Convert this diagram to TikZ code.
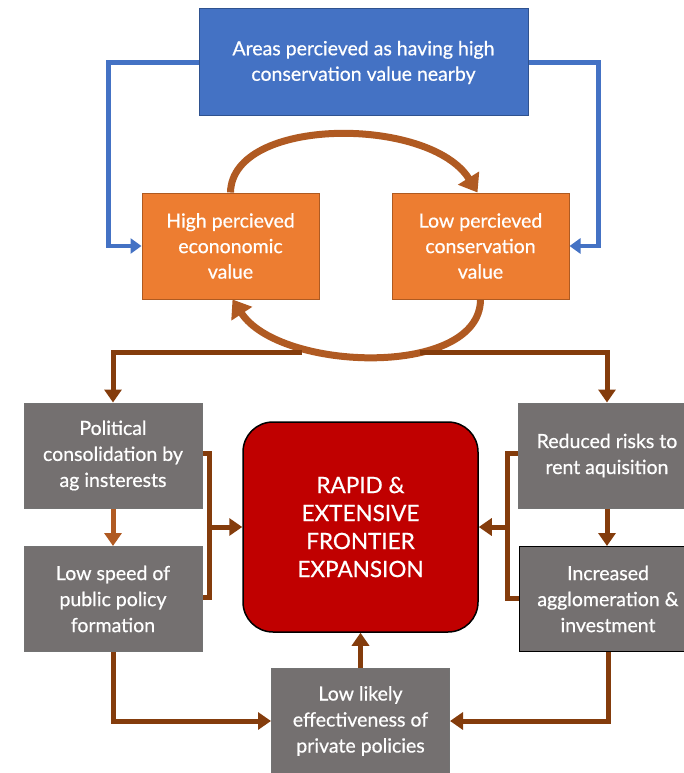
\documentclass[tikz,border=0pt]{standalone}
\usepackage{fontspec}
\setmainfont{Lato}[FakeBold=0.6]
\usetikzlibrary{arrows.meta}
\definecolor{areablue}{HTML}{4472C4}
\definecolor{areaedge}{HTML}{2F528F}
\definecolor{valorange}{HTML}{ED7D31}
\definecolor{valedge}{HTML}{AE5A21}
\definecolor{loopbrown}{RGB}{176,90,34}
\definecolor{linkbrown}{HTML}{843C0C}
\definecolor{factgray}{HTML}{747070}
\definecolor{rapidred}{HTML}{C00000}

\begin{document}
\begin{tikzpicture}[x=1pt,y=-1pt,
  box/.style={rectangle,text=white,align=center,inner sep=0pt,
    font=\fontsize{19.5}{25.5}\selectfont},
  areabox/.style={box,fill=areablue,draw=areaedge,line width=1pt,
    minimum width=329pt,minimum height=107pt},
  valbox/.style={box,fill=valorange,draw=valedge,line width=1pt,
    minimum width=177pt,minimum height=106pt},
  factbox/.style={box,fill=factgray,draw=black!55,line width=1pt,
    minimum width=178pt,minimum height=105pt,
    font=\fontsize{19.5}{26}\selectfont},
  bluelink/.style={draw=areablue,line width=4.5pt,
    -{Triangle[length=11pt,width=15pt]}},
  looplink/.style={draw=loopbrown,line width=7pt,
    -{Triangle[length=17pt,width=24pt]}},
  brownlink/.style={draw=linkbrown,line width=5pt,
    -{Triangle[length=13pt,width=17pt]}},
  plainbrown/.style={draw=linkbrown,line width=5pt}]
\useasboundingbox (0,0) rectangle (684,773);

% top of the loop
\node [areabox] at (363.5,62.5) (area) {Areas percieved as having high\\conservation value nearby};
\node [valbox] at (230.5,246) (econ) {High percieved\\econonomic\\value};
\node [valbox] at (480.5,246) (cons) {Low percieved\\conservation\\value};
%
\node [factbox] at (113,455.5) (polit) {Political\\consolidation by\\ag insterests};
\node [factbox] at (113,599) (speed) {Low speed of\\public policy\\formation};
\node [factbox] at (607,455.5) (rent) {Reduced risks to\\rent aquisition};
\node [factbox,draw=black] at (608,599) (aggl) {Increased\\agglomeration \&\\investment};
\node [factbox] at (360.5,721) (priv) {Low likely\\effectiveness of\\private policies};
%
\node [box,fill=rapidred,draw=black,line width=1.5pt,rounded corners=30pt,
  minimum width=235pt,minimum height=210pt,
  font=\fontsize{22.5}{28}\selectfont] at (360.5,527) (rapid) {RAPID \&\\EXTENSIVE\\FRONTIER\\EXPANSION};
%
\coordinate (arcL) at (302,352);
\coordinate (arcR) at (420,352);
%
\path[bluelink] (area.west) -- ++(-90,0) |- (econ.west);
\path[bluelink] (area.east) -- ++(70,0) |- (cons.east);
\path[looplink] (econ.north) .. controls (232,116) and (430,116) .. ([xshift=-3pt]cons.north);
\path[looplink] (cons.south) .. controls (480,378) and (280,372) .. ([xshift=2pt]econ.south);
%
\path[brownlink] (arcL) -| (polit.north);
\path[brownlink] (arcR) -| (rent.north);
\path[brownlink,draw=loopbrown] (polit.south) -- (speed.north);
\path[brownlink] (rent.south) -- (aggl.north -| rent.south);
\path[plainbrown] ([yshift=2pt]polit.east) -- ++(7,0) coordinate (lbrk) |- ([yshift=2pt]speed.east);
\path[plainbrown] ([yshift=2pt]rent.west) -- ++(-10,0) coordinate (rbrk) |- ([yshift=1pt]aggl.west);
\path[brownlink] (lbrk |- rapid.west) -- (rapid.west);
\path[brownlink] (rbrk |- rapid.east) -- (rapid.east);
\path[brownlink] (speed.south) |- (priv.west);
\path[brownlink] (aggl.south) |- (priv.east);
\path[brownlink] (priv.north) -- (rapid.south);

\end{tikzpicture}
\end{document}
